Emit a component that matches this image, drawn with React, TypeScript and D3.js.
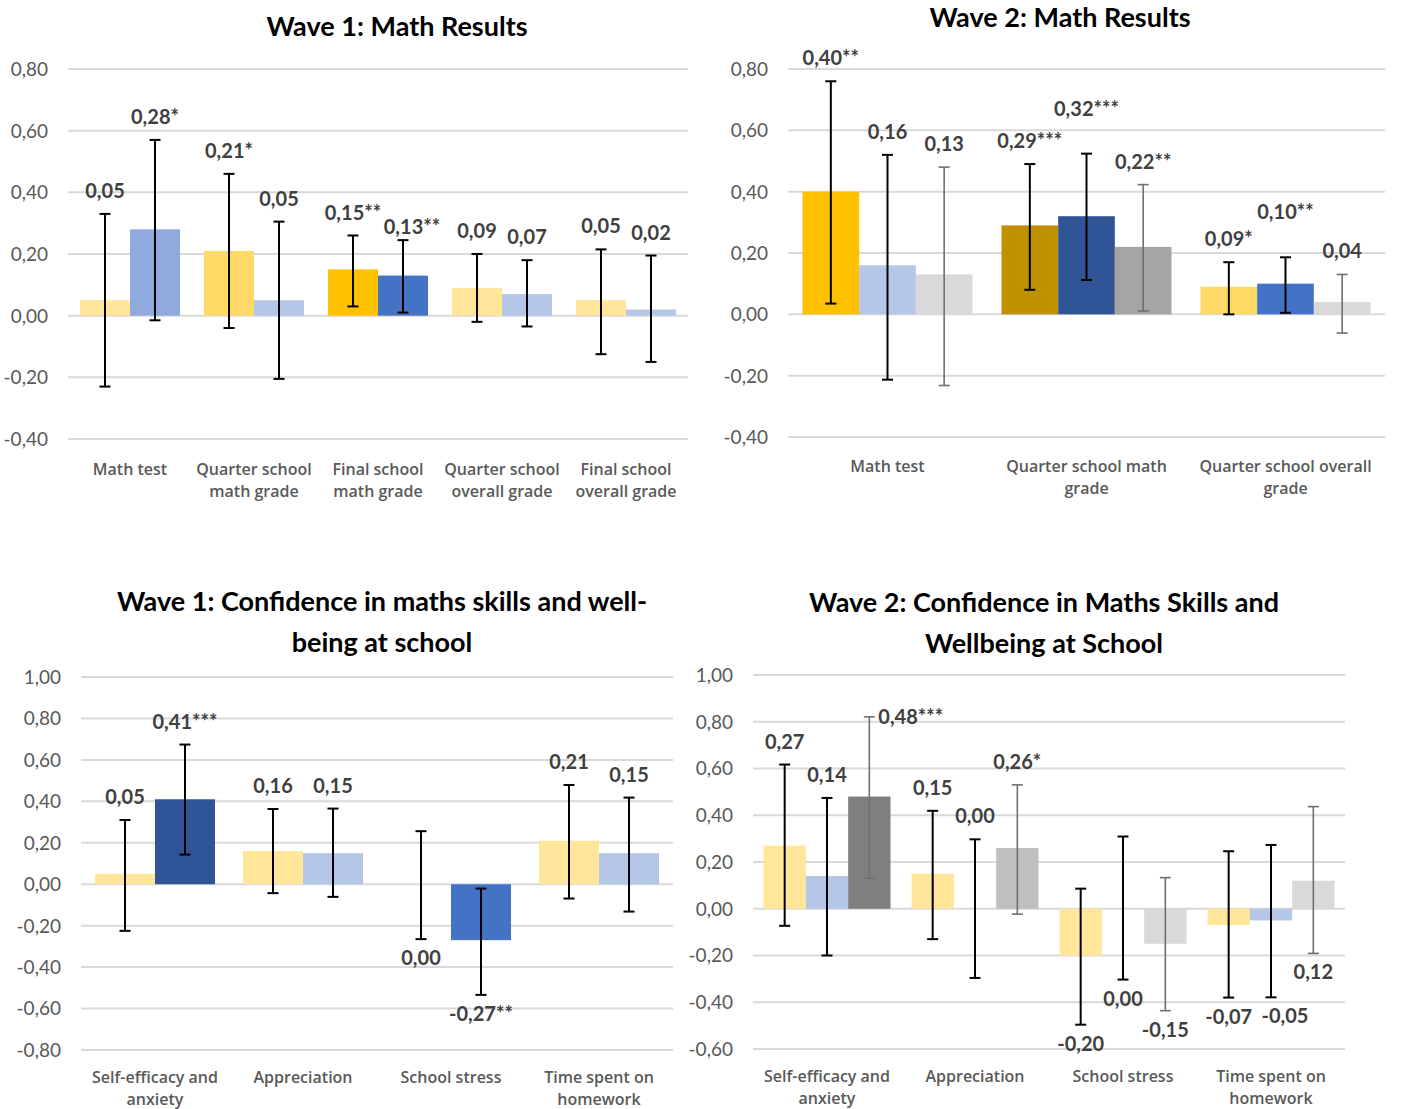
import React from 'react'
import * as d3 from 'd3'

const locale = d3.formatLocale({ decimal: ',', thousands: '.', grouping: [3], currency: ['', ''], minus: '-' })
const fmt = locale.format('.2f')

// palette
const lightYellow = '#FFE699'
const yellow = '#FFD966'
const gold = '#FFC000'
const darkGold = '#BF9000'
const lightBlue = '#B4C7E7'
const midBlue = '#8FAADC'
const blue = '#4472C4'
const darkBlue = '#2F5597'
const lightGray = '#D9D9D9'
const gray = '#BFBFBF'
const midGray = '#A5A5A5'
const darkGray = '#7F7F7F'

// ---- Wave 1: Math Results
const w1MathCats = ['Math test', 'Quarter school\nmath grade', 'Final school\nmath grade', 'Quarter school\noverall grade', 'Final school\noverall grade']
const w1MathTicks = [-0.4, -0.2, 0, 0.2, 0.4, 0.6, 0.8]
const w1MathS1 = [0.05, 0.21, 0.15, 0.09, 0.05]
const w1MathS2 = [0.28, 0.05, 0.13, 0.07, 0.02]
const w1MathStars1 = ['', '*', '**', '', '']
const w1MathStars2 = ['*', '', '**', '', '']
const w1MathLow1 = [-0.23, -0.04, 0.03, -0.02, -0.125]
const w1MathHigh1 = [0.33, 0.46, 0.26, 0.2, 0.215]
const w1MathLow2 = [-0.015, -0.205, 0.01, -0.035, -0.15]
const w1MathHigh2 = [0.57, 0.305, 0.245, 0.18, 0.195]
const w1MathColors1 = [lightYellow, yellow, gold, lightYellow, lightYellow]
const w1MathColors2 = [midBlue, lightBlue, blue, lightBlue, lightBlue]
const w1MathPlace2 = ['top', 'top', 'top-right', 'top', 'top']

// ---- Wave 2: Math Results
const w2MathCats = ['Math test', 'Quarter school math\ngrade', 'Quarter school overall\ngrade']
const w2MathTicks = [-0.4, -0.2, 0, 0.2, 0.4, 0.6, 0.8]
const w2MathS1 = [0.40, 0.29, 0.09]
const w2MathS2 = [0.16, 0.32, 0.10]
const w2MathS3 = [0.13, 0.22, 0.04]
const w2MathStars1 = ['**', '***', '*']
const w2MathStars2 = ['', '***', '**']
const w2MathStars3 = ['', '**', '']
const w2MathLow1 = [0.035, 0.08, 0.0]
const w2MathHigh1 = [0.76, 0.49, 0.17]
const w2MathLow2 = [-0.213, 0.112, 0.005]
const w2MathHigh2 = [0.52, 0.524, 0.186]
const w2MathLow3 = [-0.232, 0.011, -0.061]
const w2MathHigh3 = [0.48, 0.423, 0.13]
const w2MathColors1 = [gold, darkGold, yellow]
const w2MathColors2 = [lightBlue, darkBlue, blue]
const w2MathColors3 = [lightGray, midGray, lightGray]
const w2MathPlace2 = ['top', 'top-up', 'top-up']

// ---- Wave 1: Confidence
const w1ConfCats = ['Self-efficacy and\nanxiety', 'Appreciation', 'School stress', 'Time spent on\nhomework']
const w1ConfTicks = [-0.8, -0.6, -0.4, -0.2, 0, 0.2, 0.4, 0.6, 0.8, 1.0]
const w1ConfS1 = [0.05, 0.16, 0.00, 0.21]
const w1ConfS2 = [0.41, 0.15, -0.27, 0.15]
const w1ConfStars1 = ['', '', '', '']
const w1ConfStars2 = ['***', '', '**', '']
const w1ConfLow1 = [-0.225, -0.043, -0.265, -0.069]
const w1ConfHigh1 = [0.31, 0.363, 0.256, 0.479]
const w1ConfLow2 = [0.143, -0.061, -0.534, -0.132]
const w1ConfHigh2 = [0.674, 0.365, -0.021, 0.418]
const w1ConfColors1 = [lightYellow, lightYellow, lightYellow, lightYellow]
const w1ConfColors2 = [darkBlue, lightBlue, blue, lightBlue]
const w1ConfPlace1 = ['top', 'top', 'bottom', 'top']
const w1ConfPlace2 = ['top', 'top', 'bottom', 'top']

// ---- Wave 2: Confidence
const w2ConfCats = ['Self-efficacy and\nanxiety', 'Appreciation', 'School stress', 'Time spent on\nhomework']
const w2ConfTicks = [-0.6, -0.4, -0.2, 0, 0.2, 0.4, 0.6, 0.8, 1.0]
const w2ConfS1 = [0.27, 0.15, -0.20, -0.07]
const w2ConfS2 = [0.14, 0.00, 0.00, -0.05]
const w2ConfS3 = [0.48, 0.26, -0.15, 0.12]
const w2ConfStars1 = ['', '', '', '']
const w2ConfStars2 = ['', '', '', '']
const w2ConfStars3 = ['***', '*', '', '']
const w2ConfLow1 = [-0.073, -0.13, -0.496, -0.38]
const w2ConfHigh1 = [0.617, 0.419, 0.086, 0.246]
const w2ConfLow2 = [-0.2, -0.296, -0.303, -0.379]
const w2ConfHigh2 = [0.474, 0.297, 0.309, 0.273]
const w2ConfLow3 = [0.13, -0.023, -0.436, -0.191]
const w2ConfHigh3 = [0.821, 0.53, 0.133, 0.437]
const w2ConfColors1 = [lightYellow, lightYellow, lightYellow, lightYellow]
const w2ConfColors2 = [lightBlue, lightBlue, lightBlue, lightBlue]
const w2ConfColors3 = [darkGray, gray, lightGray, lightGray]
const w2ConfPlace1 = ['top', 'top', 'bottom', 'bottom']
const w2ConfPlace2 = ['top', 'top', 'bottom', 'bottom-right']
const w2ConfPlace3 = ['right', 'top', 'bottom', 'bottom']

type Series = {
  values: number[]
  stars: string[]
  low: number[]
  high: number[]
  colors: string[]
  place?: string[]
  errColor: string
  errWidth: number
}

type PanelCfg = {
  title: string[]
  titleX: number
  titleY: number
  cats: string[]
  ticks: number[]
  series: Series[]
  left: number
  right: number
  top: number
  bottom: number
  gap: number
  catY: number
}

const FONT = 'Lato, "Open Sans", sans-serif'
const CAT_FONT = '"Open Sans", Lato, sans-serif'

function Panel({ cfg }: { cfg: PanelCfg }) {
  const ext = d3.extent(cfg.ticks) as [number, number]
  const y = d3.scaleLinear().domain(ext).range([cfg.bottom, cfg.top])
  const x0 = d3.scaleBand<string>()
    .domain(cfg.cats)
    .range([cfg.left, cfg.right])
    .paddingInner(cfg.gap)
    .paddingOuter(cfg.gap / 2)
  const x1 = d3.scaleBand<number>()
    .domain(d3.range(cfg.series.length))
    .range([0, x0.bandwidth()])
  const bw = x1.bandwidth()
  const xc = (c: string, si: number) => (x0(c) ?? 0) + (x1(si) ?? 0) + bw / 2

  return (
    <g>
      {cfg.title.map((t, i) => (
        <text key={i} x={cfg.titleX} y={cfg.titleY + i * 41} textAnchor="middle" dy="0.35em"
          fontFamily={FONT} fontWeight={700} fontSize={27} fill="#000">{t}</text>
      ))}
      {cfg.ticks.map(t => (
        <g key={t}>
          <line x1={cfg.left} x2={cfg.right} y1={y(t)} y2={y(t)} stroke="#D9D9D9" strokeWidth={2} />
          <text x={cfg.left - 20} y={y(t)} textAnchor="end" dy="0.36em"
            fontFamily={FONT} fontSize={19} fill="#595959">{fmt(t)}</text>
        </g>
      ))}
      {cfg.cats.map(c => {
        const cx = (x0(c) ?? 0) + x0.bandwidth() / 2
        return (
          <text key={c} x={cx} y={cfg.catY} textAnchor="middle"
            fontFamily={CAT_FONT} fontSize={16} fontWeight={600} fill="#595959">
            {c.split('\n').map((l, i) => (
              <tspan key={i} x={cx} dy={i === 0 ? 0 : 22}>{l}</tspan>
            ))}
          </text>
        )
      })}
      {cfg.series.map((s, si) => (
        <g key={si}>
          {cfg.cats.map((c, ci) => {
            const v = s.values[ci]
            const yTop = y(Math.max(0, v))
            const yBot = y(Math.min(0, v))
            return (
              <rect key={ci} x={xc(c, si) - bw / 2} y={yTop} width={bw}
                height={Math.max(0, yBot - yTop)} fill={s.colors[ci]} />
            )
          })}
        </g>
      ))}
      {cfg.series.map((s, si) => (
        <g key={'e' + si} stroke={s.errColor} strokeWidth={s.errWidth}>
          {cfg.cats.map((c, ci) => {
            const cx = xc(c, si)
            const hi = y(s.high[ci])
            const lo = y(s.low[ci])
            return (
              <g key={ci}>
                <line x1={cx} x2={cx} y1={hi} y2={lo} />
                <line x1={cx - 5.5} x2={cx + 5.5} y1={hi} y2={hi} />
                <line x1={cx - 5.5} x2={cx + 5.5} y1={lo} y2={lo} />
              </g>
            )
          })}
        </g>
      ))}
      {cfg.series.map((s, si) => (
        <g key={'l' + si}>
          {cfg.cats.map((c, ci) => {
            const cx = xc(c, si)
            const place = s.place ? s.place[ci] : 'top'
            const label = fmt(s.values[ci]) + s.stars[ci]
            let tx = cx
            let ty = y(s.high[ci]) - 16
            let anchor = 'middle'
            if (place === 'top-up') ty -= 22
            if (place === 'top-right') { tx += 9; ty += 10 }
            if (place.startsWith('bottom')) ty = y(s.low[ci]) + 26
            if (place === 'bottom-right') tx += 14
            if (place === 'right') { tx = cx + 9; ty = y(s.high[ci]) + 7; anchor = 'start' }
            return (
              <text key={ci} x={tx} y={ty} textAnchor={anchor} fontFamily={FONT} fontWeight={700}
                fontSize={20} fill="#404040">{label}</text>
            )
          })}
        </g>
      ))}
    </g>
  )
}

const blackErr = '#000'
const grayErr = '#6F6F6F'

const panels: PanelCfg[] = [
  {
    title: ['Wave 1: Math Results'], titleX: 397, titleY: 27,
    cats: w1MathCats, ticks: w1MathTicks,
    series: [
      { values: w1MathS1, stars: w1MathStars1, low: w1MathLow1, high: w1MathHigh1, colors: w1MathColors1, errColor: blackErr, errWidth: 2 },
      { values: w1MathS2, stars: w1MathStars2, low: w1MathLow2, high: w1MathHigh2, colors: w1MathColors2, place: w1MathPlace2, errColor: blackErr, errWidth: 2 },
    ],
    left: 68, right: 688, top: 69, bottom: 439, gap: 24 / 124, catY: 475,
  },
  {
    title: ['Wave 2: Math Results'], titleX: 1060, titleY: 18,
    cats: w2MathCats, ticks: w2MathTicks,
    series: [
      { values: w2MathS1, stars: w2MathStars1, low: w2MathLow1, high: w2MathHigh1, colors: w2MathColors1, errColor: blackErr, errWidth: 2 },
      { values: w2MathS2, stars: w2MathStars2, low: w2MathLow2, high: w2MathHigh2, colors: w2MathColors2, place: w2MathPlace2, errColor: blackErr, errWidth: 2 },
      { values: w2MathS3, stars: w2MathStars3, low: w2MathLow3, high: w2MathHigh3, colors: w2MathColors3, errColor: grayErr, errWidth: 1.6 },
    ],
    left: 788, right: 1385, top: 69, bottom: 437, gap: 29 / 199, catY: 472,
  },
  {
    title: ['Wave 1: Confidence in maths skills and well-', 'being at school'], titleX: 382, titleY: 602,
    cats: w1ConfCats, ticks: w1ConfTicks,
    series: [
      { values: w1ConfS1, stars: w1ConfStars1, low: w1ConfLow1, high: w1ConfHigh1, colors: w1ConfColors1, place: w1ConfPlace1, errColor: blackErr, errWidth: 2 },
      { values: w1ConfS2, stars: w1ConfStars2, low: w1ConfLow2, high: w1ConfHigh2, colors: w1ConfColors2, place: w1ConfPlace2, errColor: blackErr, errWidth: 2 },
    ],
    left: 81, right: 673, top: 677, bottom: 1050, gap: 28 / 148, catY: 1083,
  },
  {
    title: ['Wave 2: Confidence in Maths Skills and', 'Wellbeing at School'], titleX: 1044, titleY: 603,
    cats: w2ConfCats, ticks: w2ConfTicks,
    series: [
      { values: w2ConfS1, stars: w2ConfStars1, low: w2ConfLow1, high: w2ConfHigh1, colors: w2ConfColors1, place: w2ConfPlace1, errColor: blackErr, errWidth: 2 },
      { values: w2ConfS2, stars: w2ConfStars2, low: w2ConfLow2, high: w2ConfHigh2, colors: w2ConfColors2, place: w2ConfPlace2, errColor: blackErr, errWidth: 2 },
      { values: w2ConfS3, stars: w2ConfStars3, low: w2ConfLow3, high: w2ConfHigh3, colors: w2ConfColors3, place: w2ConfPlace3, errColor: grayErr, errWidth: 1.6 },
    ],
    left: 753, right: 1345, top: 675, bottom: 1049, gap: 21 / 148, catY: 1082,
  },
]

export default function App() {
  return (
    <div style={{ position: 'absolute', left: 0, top: 0 }}>
      <svg width={1408} height={1109} style={{ display: 'block', background: '#fff' }}>
        {panels.map((p, i) => <Panel key={i} cfg={p} />)}
      </svg>
    </div>
  )
}
